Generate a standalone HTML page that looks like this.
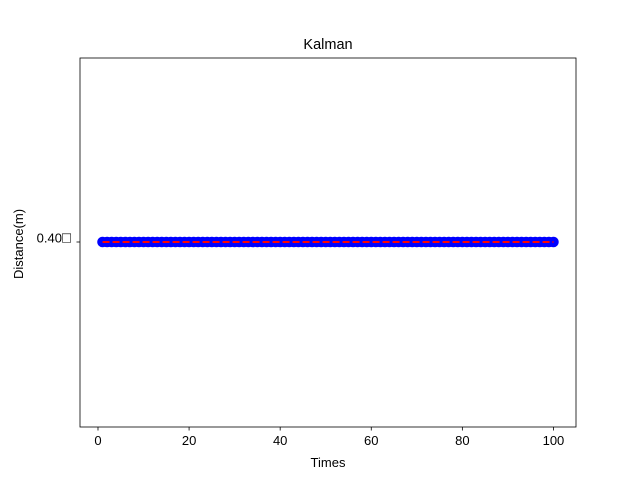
<!DOCTYPE html>
<html><head><meta charset="utf-8"><style>body{margin:0;background:#fff}svg{display:block;font-family:"Liberation Sans","DejaVu Sans",sans-serif}</style></head>
<body>
<svg width="640" height="480" xmlns="http://www.w3.org/2000/svg">
<rect x="0" y="0" width="640" height="480" fill="#fff"/>
<g id="marks"></g>
<rect x="80" y="58" width="496" height="369" fill="none" stroke="#000" stroke-width="0.8"/>
<g id="xticks"></g>
<g>
<line x1="80" y1="242" x2="76.5" y2="242" stroke="#000" stroke-width="0.8"/>
<text x="71" y="238" dy="0.35em" text-anchor="end" font-size="13">0.40<tspan font-size="15">□</tspan></text>
</g>
<text x="328" y="49" text-anchor="middle" font-size="14.5">Kalman</text>
<text x="328" y="467" text-anchor="middle" font-size="13">Times</text>
<text transform="translate(23,244) rotate(-90)" text-anchor="middle" font-size="13">Distance(m)</text>
</svg>
<script>
const xTicks=[0,20,40,60,80,100];
const times=[];for(let i=1;i<=100;i++)times.push(i);
const values=new Array(100).fill(0.40);
const xMin=-3.95,xMax=104.95;
const X=v=>80+(v-xMin)/(xMax-xMin)*496;
const Y=v=>242+(0.40-v)*3000;
const ns="http://www.w3.org/2000/svg";
const m=document.getElementById('marks');
times.forEach((t,i)=>{const c=document.createElementNS(ns,'circle');c.setAttribute('cx',X(t));c.setAttribute('cy',Y(values[i]));c.setAttribute('r',4.8);c.setAttribute('fill','#0000ff');c.setAttribute('stroke','#0000ff');


m.appendChild(c);});
const p=document.createElementNS(ns,'polyline');
p.setAttribute('points',times.map((t,i)=>X(t)+','+Y(values[i])).join(' '));
p.setAttribute('fill','none');p.setAttribute('stroke','#ff0000');p.setAttribute('stroke-width','2');p.setAttribute('stroke-dasharray','7,3');


m.appendChild(p);
const g=document.getElementById('xticks');
xTicks.forEach(v=>{const l=document.createElementNS(ns,'line');l.setAttribute('x1',X(v));l.setAttribute('x2',X(v));l.setAttribute('y1',427);l.setAttribute('y2',430.5);l.setAttribute('stroke','#000');l.setAttribute('stroke-width','0.8');


g.appendChild(l);
const tx=document.createElementNS(ns,'text');tx.setAttribute('x',X(v));tx.setAttribute('y',445);tx.setAttribute('text-anchor','middle');tx.setAttribute('font-size','13');tx.textContent=v;


g.appendChild(tx);});
</script>
</body></html>
